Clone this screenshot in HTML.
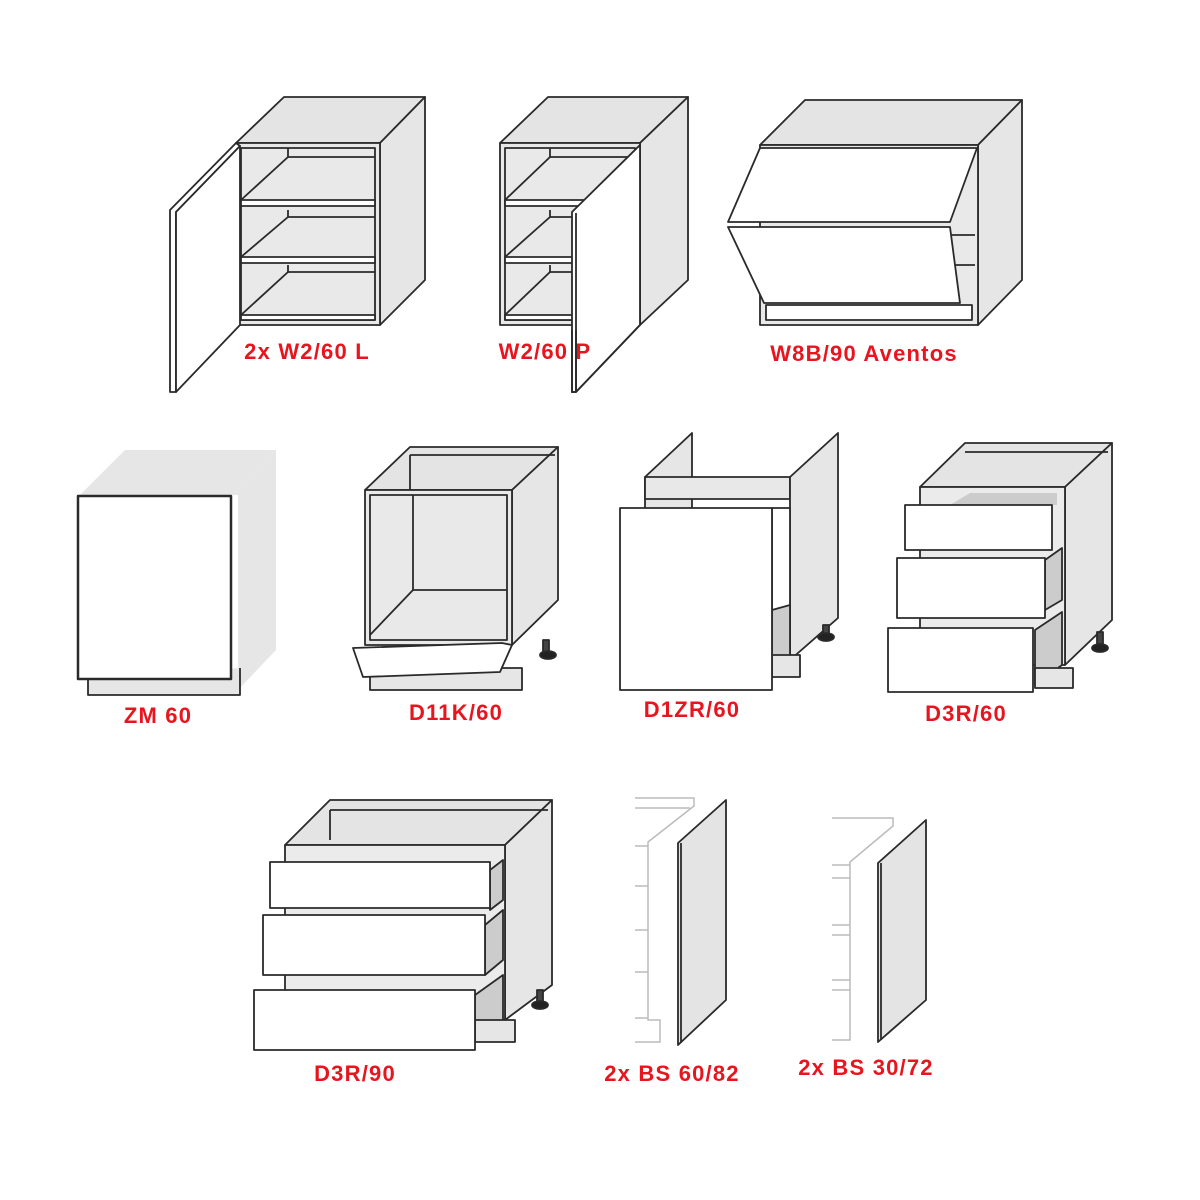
<!DOCTYPE html>
<html><head><meta charset="utf-8"><style>
html,body{margin:0;padding:0;background:#fff;}
svg{display:block;}
text{font-family:"Liberation Sans",sans-serif;font-weight:bold;font-size:22px;letter-spacing:1.2px;fill:#e8141e;}
</style></head><body>
<svg width="1200" height="1200" viewBox="0 0 1200 1200" xmlns="http://www.w3.org/2000/svg">
<g stroke="#2a2a2a" stroke-width="1.8" stroke-linejoin="round">
<!-- W2/60 L -->
<polygon points="236,143 284,97 425,97 380,143" fill="#e4e4e4"/>
<polygon points="380,143 425,97 425,280 380,325" fill="#e6e6e6"/>
<rect x="236" y="143" width="144" height="182" fill="#e8e8e8"/>
<rect x="241" y="148" width="134" height="172" fill="#e9e9e9"/>
<polyline points="288,148 288,157 375,157" fill="none"/>
<polyline points="288,210 288,217 375,217" fill="none"/>
<polyline points="288,265 288,272 375,272" fill="none"/>
<line x1="241" y1="200" x2="288" y2="157"/>
<line x1="241" y1="257" x2="288" y2="217"/>
<line x1="241" y1="315" x2="288" y2="272"/>
<rect x="241" y="200" width="134" height="6" fill="#fff"/>
<rect x="241" y="257" width="134" height="6" fill="#fff"/>
<rect x="241" y="315" width="134" height="5" fill="#fff"/>
<polygon points="170,210 236,143 240,146 176,212 176,392 170,392" fill="#fff"/>
<polygon points="176,212 240,146 240,325 176,392" fill="#fff"/>
<!-- W2/60 P -->
<polygon points="500,143 548,97 688,97 640,143" fill="#e4e4e4"/>
<polygon points="640,143 688,97 688,280 640,325" fill="#e6e6e6"/>
<rect x="500" y="143" width="140" height="182" fill="#e8e8e8"/>
<rect x="505" y="148" width="130" height="172" fill="#e9e9e9"/>
<polyline points="550,148 550,157 635,157" fill="none"/>
<polyline points="550,210 550,217 635,217" fill="none"/>
<polyline points="550,265 550,272 635,272" fill="none"/>
<line x1="505" y1="200" x2="550" y2="157"/>
<line x1="505" y1="257" x2="550" y2="217"/>
<line x1="505" y1="315" x2="550" y2="272"/>
<rect x="505" y="200" width="130" height="6" fill="#fff"/>
<rect x="505" y="257" width="130" height="6" fill="#fff"/>
<rect x="505" y="315" width="130" height="5" fill="#fff"/>
<polygon points="572,212 640,145 640,325 576,392 572,392" fill="#fff"/>
<line x1="576" y1="213" x2="576" y2="392"/>
<!-- W8B/90 -->
<polygon points="760,145 805,100 1022,100 978,145" fill="#e4e4e4"/>
<polygon points="978,145 1022,100 1022,280 978,325" fill="#e6e6e6"/>
<rect x="760" y="145" width="218" height="180" fill="#e9e9e9"/>
<rect x="766" y="305" width="206" height="15" fill="#fff"/>
<line x1="950" y1="235" x2="975" y2="235"/>
<line x1="950" y1="265" x2="975" y2="265"/>
<polygon points="728,222 760,148 977,148 950,222" fill="#fff"/>
<polygon points="728,227 950,227 960,303 764,303" fill="#fff"/>
</g>
<text x="307" y="359" text-anchor="middle">2x W2/60 L</text>
<text x="545" y="359" text-anchor="middle">W2/60 P</text>
<g stroke="#2a2a2a" stroke-width="1.8" fill="none">
<polyline points="572,330 572,392 576,392 640,325"/>
<line x1="576" y1="330" x2="576" y2="392"/>
</g>
<text x="864" y="361" text-anchor="middle">W8B/90 Aventos</text>
<g stroke="#2a2a2a" stroke-width="1.8" stroke-linejoin="round">
<!-- ZM 60 -->
<polygon points="80,495 125,450 276,450 232,495" fill="#e6e6e6" stroke="none"/>
<polygon points="232,495 276,450 276,650 238,690 238,495" fill="#e6e6e6" stroke="none"/>
<polyline points="88,680 88,695 240,695 240,668" fill="#e6e6e6"/>
<rect x="78" y="496" width="153" height="183" fill="#fff" stroke-width="2.5"/>
<!-- D11K/60 -->
<polygon points="365,490 410,447 558,447 512,490" fill="#e4e4e4"/>
<polygon points="512,490 558,447 558,600 512,645" fill="#e6e6e6"/>
<rect x="365" y="490" width="147" height="155" fill="#e9e9e9"/>
<rect x="370" y="495" width="137" height="145" fill="#e9e9e9"/>
<line x1="413" y1="495" x2="413" y2="590"/>
<line x1="413" y1="590" x2="507" y2="590"/>
<line x1="370" y1="635" x2="413" y2="590"/>
<line x1="410" y1="455" x2="555" y2="455"/>
<line x1="410" y1="455" x2="410" y2="490"/>
<rect x="370" y="668" width="152" height="22" fill="#e6e6e6"/>
<rect x="543" y="640" width="6" height="12" fill="#444"/>
<ellipse cx="548" cy="655" rx="8" ry="4" fill="#222"/>
<polygon points="353,648 502,643 512,645 500,672 363,677" fill="#fff"/>
<!-- D1ZR/60 -->
<polygon points="645,477 692,433 692,520 645,520" fill="#e6e6e6"/>
<rect x="645" y="477" width="145" height="22" fill="#e8e8e8"/>
<polygon points="790,477 838,433 838,618 790,660" fill="#e6e6e6"/>
<rect x="772" y="508" width="18" height="150" fill="#fff"/>
<polygon points="772,610 790,605 790,655 772,665" fill="#ccc"/>
<rect x="772" y="655" width="28" height="22" fill="#e6e6e6"/>
<rect x="823" y="625" width="6" height="10" fill="#444"/>
<ellipse cx="826" cy="637" rx="8" ry="4" fill="#222"/>
<rect x="620" y="508" width="152" height="182" fill="#fff"/>
<!-- D3R/60 -->
<polygon points="920,487 965,443 1112,443 1065,487" fill="#e4e4e4"/>
<polygon points="1065,487 1112,443 1112,620 1065,665" fill="#e6e6e6"/>
<rect x="920" y="487" width="145" height="178" fill="#ebebeb"/>
<line x1="965" y1="452" x2="1108" y2="452"/>
<polygon points="950,505 970,493 1057,493 1057,505" fill="#ccc" stroke="none"/>
<polygon points="1045,560 1062,548 1062,600 1045,610" fill="#ccc"/>
<polygon points="1035,630 1062,612 1062,665 1035,685" fill="#ccc"/>
<rect x="1035" y="668" width="38" height="20" fill="#e6e6e6"/>
<rect x="1097" y="632" width="6" height="12" fill="#444"/>
<ellipse cx="1100" cy="648" rx="8" ry="4" fill="#222"/>
<rect x="905" y="505" width="147" height="45" fill="#fff"/>
<rect x="897" y="558" width="148" height="60" fill="#fff"/>
<rect x="888" y="628" width="145" height="64" fill="#fff"/>
<!-- D3R/90 -->
<polygon points="285,845 330,800 552,800 505,845" fill="#e4e4e4"/>
<polygon points="505,845 552,800 552,985 505,1020" fill="#e6e6e6"/>
<rect x="285" y="845" width="220" height="175" fill="#ebebeb"/>
<line x1="330" y1="810" x2="548" y2="810"/>
<line x1="330" y1="810" x2="330" y2="840"/>
<polygon points="490,870 503,860 503,900 490,910" fill="#ccc"/>
<polygon points="485,925 503,910 503,960 485,975" fill="#ccc"/>
<polygon points="475,995 503,975 503,1020 475,1040" fill="#ccc"/>
<rect x="475" y="1020" width="40" height="22" fill="#e6e6e6"/>
<rect x="537" y="990" width="6" height="12" fill="#444"/>
<ellipse cx="540" cy="1005" rx="8" ry="4" fill="#222"/>
<rect x="270" y="862" width="220" height="46" fill="#fff"/>
<rect x="263" y="915" width="222" height="60" fill="#fff"/>
<rect x="254" y="990" width="221" height="60" fill="#fff"/>
</g>
<!-- ghost cabinets -->
<g stroke="#bbb" stroke-width="1.5" fill="none">
<polyline points="635,798 694,798 694,806 648,842 648,1020 660,1020 660,1042 635,1042"/>
<line x1="635" y1="808" x2="690" y2="808"/>
<line x1="635" y1="846" x2="648" y2="846"/>
<line x1="635" y1="886" x2="648" y2="886"/>
<line x1="635" y1="930" x2="648" y2="930"/>
<line x1="635" y1="972" x2="648" y2="972"/>
<line x1="635" y1="1018" x2="648" y2="1018"/>
<polyline points="832,818 893,818 893,826 850,862 850,1040 832,1040"/>
<line x1="832" y1="865" x2="850" y2="865"/>
<line x1="832" y1="878" x2="850" y2="878"/>
<line x1="832" y1="925" x2="850" y2="925"/>
<line x1="832" y1="935" x2="850" y2="935"/>
<line x1="832" y1="980" x2="850" y2="980"/>
<line x1="832" y1="990" x2="850" y2="990"/>
</g>
<g stroke="#2a2a2a" stroke-width="1.8" stroke-linejoin="round">
<polygon points="678,843 726,800 726,1000 678,1045" fill="#e4e4e4"/>
<line x1="681" y1="843" x2="681" y2="1043"/>
<polygon points="878,863 926,820 926,1000 878,1042" fill="#e4e4e4"/>
<line x1="881" y1="863" x2="881" y2="1040"/>
</g>
<text x="158" y="723" text-anchor="middle">ZM 60</text>
<text x="456" y="720" text-anchor="middle">D11K/60</text>
<text x="692" y="717" text-anchor="middle">D1ZR/60</text>
<text x="966" y="721" text-anchor="middle">D3R/60</text>
<text x="355" y="1081" text-anchor="middle">D3R/90</text>
<text x="672" y="1081" text-anchor="middle">2x BS 60/82</text>
<text x="866" y="1075" text-anchor="middle">2x BS 30/72</text>
</svg>
</body></html>
